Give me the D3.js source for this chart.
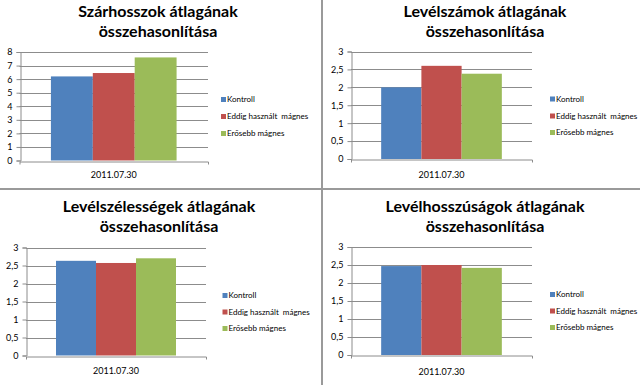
<!DOCTYPE html>
<head>
  <meta charset="utf-8">
  <script src="https://d3js.org/d3.v7.min.js"></script>
  <style>
    body { margin:0; background:#fff; }
    text { font-family: Lato, "Open Sans", sans-serif; fill:#000; }
  </style>
</head>

<body>
<script>
  // data
  var category = ["2011.07.30"];
  var seriesNames = ["Kontroll", "Eddig használt  mágnes", "Erősebb mágnes"];
  var seriesColors = ["#4f81bd", "#c0504d", "#9bbb59"];

  var titles = [
    ["Szárhosszok átlagának", "összehasonlítása"],
    ["Levélszámok átlagának", "összehasonlítása"],
    ["Levélszélességek átlagának", "összehasonlítása"],
    ["Levélhosszúságok átlagának", "összehasonlítása"]
  ];
  var szarhossz = [6.2, 6.45, 7.6];
  var levelszam = [2.0, 2.6, 2.38];
  var levelszelesseg = [2.63, 2.57, 2.7];
  var levelhossz = [2.47, 2.5, 2.42];
  var yMaxes = [8, 3, 3, 3];
  var tickSteps = [1, 0.5, 0.5, 0.5];

  var width = 640, height = 385;

  var svg = d3.select("body").append("svg")
    .attr("width", width)
    .attr("height", height);

  // layout of the four panels (plot box + title/legend positions)
  var panels = [
    {values: szarhossz, left: 19.5, right: 208, top: 52, bottom: 160.5,
     titleX: 158, titleY: [17, 36.5], labelY: 178, legX: 221, legY: [99.5, 116.5, 133.5]},
    {values: levelszam, left: 351, right: 532, top: 51.5, bottom: 159,
     titleX: 485, titleY: [17, 36.5], labelY: 177.5, legX: 550, legY: [99, 116, 132.5]},
    {values: levelszelesseg, left: 26, right: 206, top: 247.5, bottom: 355.5,
     titleX: 159, titleY: [212, 232], labelY: 374, legX: 222.5, legY: [295.5, 312, 328.5]},
    {values: levelhossz, left: 351, right: 532, top: 247, bottom: 355,
     titleX: 485, titleY: [212, 232], labelY: 375, legX: 550, legY: [294.5, 311, 327.5]}
  ];

  panels.forEach(function(p, i) {
    var g = svg.append("g");

    var y = d3.scaleLinear().domain([0, yMaxes[i]]).range([p.bottom, p.top]);
    var x0 = d3.scaleBand().domain(category).range([p.left, p.right])
      .paddingInner(0).paddingOuter(0.25);
    var x1 = d3.scaleBand().domain(d3.range(seriesNames.length))
      .range([0, x0.bandwidth()]);

    var ticks = d3.range(0, yMaxes[i] + 1e-9, tickSteps[i]);
    var fmt = function(d) { return String(d).replace(".", ","); };

    // gridlines
    g.selectAll(".grid").data(ticks.slice(1)).enter().append("line")
      .attr("x1", p.left).attr("x2", p.right)
      .attr("y1", function(d) { return Math.round(y(d)) + 0.5; })
      .attr("y2", function(d) { return Math.round(y(d)) + 0.5; })
      .attr("stroke", "#8c8c8c").attr("stroke-width", 1);

    // bars
    g.selectAll(".bar").data(p.values).enter().append("rect")
      .attr("x", function(d, j) { return x0(category[0]) + x1(j); })
      .attr("y", function(d) { return y(d); })
      .attr("width", x1.bandwidth())
      .attr("height", function(d) { return p.bottom - y(d); })
      .attr("fill", function(d, j) { return seriesColors[j]; });

    // y axis
    var yAxis = d3.axisLeft(y).tickValues(ticks).tickFormat(fmt)
      .tickSize(4).tickPadding(4);
    var ya = g.append("g")
      .attr("transform", "translate(" + (Math.round(p.left) + 0.5) + ",0)")
      .call(yAxis);
    ya.select(".domain").attr("stroke", "#8c8c8c");
    ya.selectAll(".tick line").attr("stroke", "#8c8c8c");
    ya.selectAll(".tick text").style("font-size", "9px")
      .style("font-family", "Lato, sans-serif").attr("fill", "#000");

    // x axis
    var xa = g.append("g")
      .attr("transform", "translate(0," + (Math.round(p.bottom) + 0.5) + ")")
      .call(d3.axisBottom(x0).tickSize(0).tickPadding(0).tickSizeOuter(3));
    xa.select(".domain").attr("stroke", "#8c8c8c");
    xa.selectAll(".tick text").remove();
    g.append("text")
      .attr("x", (p.left + p.right) / 2)
      .attr("y", p.labelY)
      .attr("text-anchor", "middle")
      .style("font-size", "9px")
      .text(category[0]);

    // title
    titles[i].forEach(function(t, k) {
      g.append("text")
        .attr("x", p.titleX)
        .attr("y", p.titleY[k])
        .attr("text-anchor", "middle")
        .style("font-size", "16px")
        .style("font-weight", "bold")
        .text(t);
    });

    // legend
    seriesNames.forEach(function(s, j) {
      g.append("rect")
        .attr("x", p.legX).attr("y", p.legY[j] - 2.5)
        .attr("width", 5).attr("height", 5)
        .attr("fill", seriesColors[j]);
      g.append("text")
        .attr("x", p.legX + 6).attr("y", p.legY[j])
        .attr("dy", "0.35em")
        .style("font-size", "8px")
        .style("white-space", "pre")
        .text(s);
    });
  });

  // panel separators
  svg.append("line")
    .attr("x1", 0).attr("x2", width).attr("y1", 189).attr("y2", 189)
    .attr("stroke", "#9a9a9a").attr("stroke-width", 2);
  svg.append("line")
    .attr("x1", 322).attr("x2", 322).attr("y1", 0).attr("y2", height)
    .attr("stroke", "#9a9a9a").attr("stroke-width", 2);
</script>
</body>
